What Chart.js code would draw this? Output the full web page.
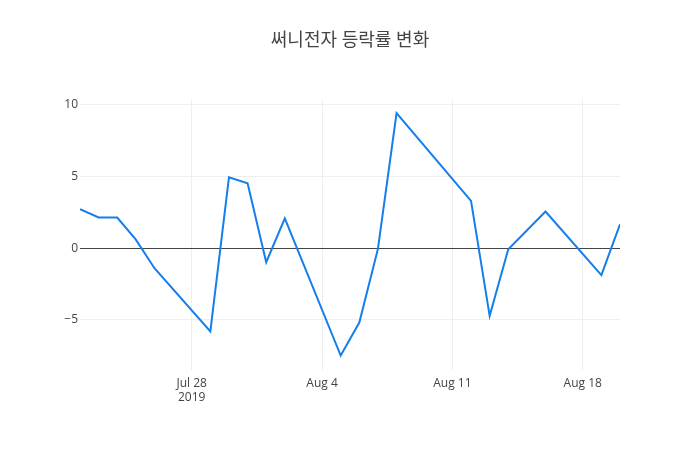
<!DOCTYPE html>
<html>
<head>
<meta charset="utf-8">
<script src="https://cdn.jsdelivr.net/npm/chart.js@4/dist/chart.umd.min.js"></script>
<style>
  html, body { margin: 0; padding: 0; background: #fff; }
  #wrap { width: 700px; height: 450px; }
</style>
</head>
<body>
<div id="wrap"><canvas id="myChart" width="700" height="450"></canvas></div>
<script>
const startDate = "2019-07-22";
const endDate = "2019-08-20";
const dates = [
  "2019-07-22", "2019-07-23", "2019-07-24", "2019-07-25", "2019-07-26",
  "2019-07-29", "2019-07-30", "2019-07-31", "2019-08-01", "2019-08-02",
  "2019-08-05", "2019-08-06", "2019-08-07", "2019-08-08", "2019-08-12",
  "2019-08-13", "2019-08-14", "2019-08-16", "2019-08-19", "2019-08-20"
];
const changeRates = [
  2.72, 2.14, 2.14, 0.6, -1.4,
  -5.81, 4.95, 4.53, -0.98, 2.09,
  -7.49, -5.19, -0.05, 9.42, 3.3,
  -4.72, -0.07, 2.56, -1.88, 1.67
];
const tickDates = ["2019-07-28", "2019-08-04", "2019-08-11", "2019-08-18"];
const tickLabels = [["Jul 28", "2019"], "Aug 4", "Aug 11", "Aug 18"];
const yTicks = [-5, 0, 5, 10];

const DAY = 86400000;
function dayIndex(d) {
  return (Date.parse(d) - Date.parse(startDate)) / DAY;
}

const points = dates.map((d, i) => ({ x: dayIndex(d), y: changeRates[i] }));
const font = "'Open Sans', 'Noto Sans CJK KR', sans-serif";

const ctx = document.getElementById("myChart").getContext("2d");
const myChart = new Chart(ctx, {
  type: "line",
  data: {
    datasets: [
      {
        label: "등락률",
        data: points,
        borderColor: "rgb(20, 126, 236)",
        borderWidth: 2,
        pointRadius: 0,
        tension: 0,
        fill: false,
      },
    ],
  },
  options: {
    responsive: false,
    animation: false,
    layout: { padding: 0 },
    plugins: {
      legend: { display: false },
      tooltip: { enabled: false },
      title: {
        display: true,
        text: "써니전자 등락률 변화",
        color: "#444",
        font: { family: font, size: 18, weight: "normal" },
        padding: { top: 30, bottom: 48 },
      },
    },
    scales: {
      x: {
        type: "linear",
        min: 0,
        max: dayIndex(endDate),
        afterBuildTicks: (axis) => {
          axis.ticks = tickDates.map((d) => ({ value: dayIndex(d) }));
        },
        afterFit: (axis) => {
          axis.height = 80;
        },
        ticks: {
          color: "#444",
          font: { family: font, size: 12 },
          padding: 6,
          maxRotation: 0,
          autoSkip: false,
          callback: (value) => {
            const i = tickDates.findIndex((d) => dayIndex(d) === value);
            return i >= 0 ? tickLabels[i] : "";
          },
        },
        grid: { color: "#eee", drawTicks: false },
        border: { display: false },
      },
      y: {
        min: -8.5,
        max: 10.37,
        afterBuildTicks: (axis) => {
          axis.ticks = yTicks.map((v) => ({ value: v }));
        },
        afterFit: (axis) => {
          axis.width = 80;
        },
        ticks: {
          color: "#444",
          font: { family: font, size: 12 },
          padding: 2,
          callback: (value) => (value < 0 ? "\u2212" + Math.abs(value) : String(value)),
        },
        grid: {
          drawTicks: false,
          color: (c) => (c.tick && c.tick.value === 0 ? "#444" : "#eee"),
          lineWidth: 1,
        },
        border: { display: false },
      },
      // empty right-hand margin, keeps the title centred on the page
      yRight: {
        position: "right",
        afterFit: (axis) => {
          axis.width = 80;
        },
        ticks: { display: false },
        grid: { display: false },
        border: { display: false },
      },
    },
  },
});
</script>
</body>
</html>
